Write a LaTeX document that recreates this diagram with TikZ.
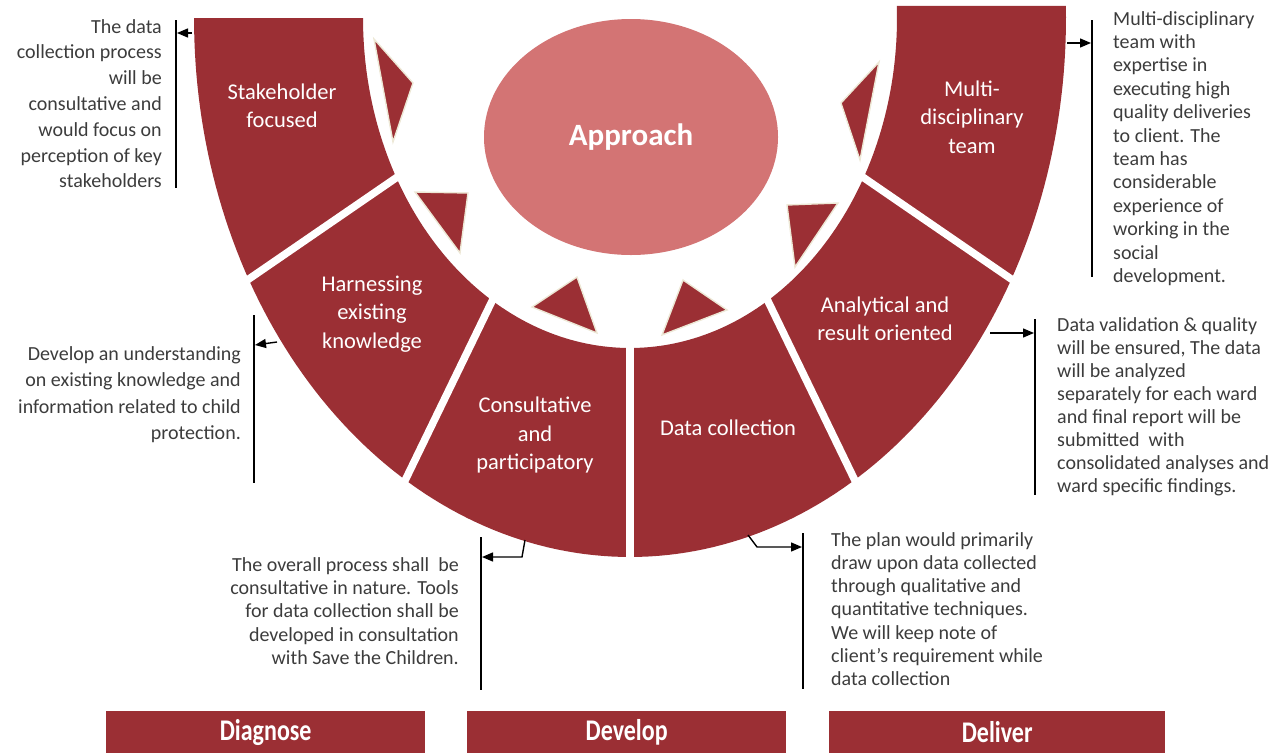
\documentclass[tikz,border=0pt]{standalone}
\usepackage{fontspec}
\setmainfont{Carlito}
\usetikzlibrary{arrows.meta,shapes.geometric}
\definecolor{ringred}{HTML}{9B2F34}
\definecolor{apppink}{HTML}{D37474}
\definecolor{txtgrey}{HTML}{3C3C3C}
\definecolor{cream}{HTML}{EDE8D6}
\begin{document}
\begin{tikzpicture}[x=1pt,y=-1pt,
  tri/.style={fill=ringred, draw=cream, line width=1.4pt, line join=miter},
  seglabel/.style={text=white, font=\fontsize{22.5}{28.5}\selectfont, align=center, inner sep=0},
  annot/.style={text=txtgrey, inner sep=0},
  bracket/.style={black, line width=1.6pt},
  pointer/.style={black, line width=1.4pt, -{Triangle[length=11pt,width=9pt]}},
  phasebox/.style={fill=ringred, minimum height=42, inner sep=0, text=white, font=\fontsize{30}{30}\selectfont\bfseries, anchor=north west},
  gapline/.style={white, line width=7.5pt}
]
\useasboundingbox (0,0) rectangle (1272,753);

% ring
\fill[ringred] plot[domain=-1.3:180,samples=150] ({630+436*cos(\x)},{18+539*sin(\x)})
  -- plot[domain=180:-2.1,samples=150] ({630+267*cos(\x)},{18+330*sin(\x)}) -- cycle;
\foreach \a in {29,59,90,121,151}
  \draw[gapline] ({630+258*cos(\a)},{18+318*sin(\a)}) -- ({630+446*cos(\a)},{18+551*sin(\a)});

% triangles
\path[tri] (374,39) -- (413,83) -- (393,142) -- cycle;
\path[tri] (415,192) -- (468,193) -- (460,253) -- cycle;
\path[tri] (577,277) -- (532,307) -- (597,333) -- cycle;
\path[tri] (683,280) -- (727,310) -- (662,335) -- cycle;
\path[tri] (787,205) -- (838,203) -- (795,267) -- cycle;
\path[tri] (879,62) -- (841,103) -- (860,160) -- cycle;

% centre ellipse
\node[ellipse, fill=apppink, minimum width=294, minimum height=236, inner sep=0,
  text=white, font=\fontsize{31}{31}\selectfont\bfseries] (app) at (631,137) {Approach};

% segment labels
\node[seglabel] (s1) at (282,106) {Stakeholder\\focused};
\node[seglabel] (s2) at (372,314) {Harnessing\\existing\\knowledge};
\node[seglabel] (s3) at (535,435) {Consultative\\and\\participatory};
\node[seglabel] (s4) at (728,428) {Data collection};
\node[seglabel] (s5) at (885,319) {Analytical and\\result oriented};
\node[seglabel] (s6) at (972,117) {Multi-\\disciplinary\\team};

% brackets
\coordinate (b1t) at (176,20);   \coordinate (b1b) at (176,188);
\coordinate (b2t) at (254,315);  \coordinate (b2b) at (254,483);
\coordinate (b3t) at (481,537);  \coordinate (b3b) at (481,690);
\coordinate (b4t) at (803,533);  \coordinate (b4b) at (803,689);
\coordinate (b5t) at (1035,319); \coordinate (b5b) at (1035,495);
\coordinate (b6t) at (1092,20);  \coordinate (b6b) at (1092,277);
\foreach \b in {1,...,6} \draw[bracket] (b\b t) -- (b\b b);

% pointers
\coordinate (p1s) at (192,33);  \coordinate (p1e) at (177,33);
\coordinate (p2s) at (277,342); \coordinate (p2e) at (255,345);
\coordinate (p3s) at (525,540); \coordinate (p3m) at (522,557); \coordinate (p3e) at (482,557);
\coordinate (p4s) at (748,535); \coordinate (p4m) at (757,547); \coordinate (p4e) at (802,547);
\coordinate (p5s) at (990,333); \coordinate (p5e) at (1034,333);
\coordinate (p6s) at (1067,43); \coordinate (p6e) at (1091,43);
\draw[pointer] (p1s) -- (p1e);
\draw[pointer] (p2s) -- (p2e);
\draw[pointer] (p3s) -- (p3m) -- (p3e);
\draw[pointer] (p4s) -- (p4m) -- (p4e);
\draw[pointer] (p5s) -- (p5e);
\draw[pointer] (p6s) -- (p6e);

% annotations
\node[annot, anchor=north east, align=right, font=\fontsize{20}{25.8}\selectfont] (a1) at (162,19)
 {The data\\collection process\\will be\\consultative and\\would focus on\\perception of key\\stakeholders};
\node[annot, anchor=north east, align=right, font=\fontsize{20}{26.5}\selectfont] (a2) at (241,346)
 {Develop an understanding\\on existing knowledge and\\information related to child\\protection.};
\node[annot, anchor=north east, align=right, font=\fontsize{20}{23.4}\selectfont] (a3) at (459,557)
 {The overall process shall\ \ be\\consultative in nature. Tools\\for data collection shall be\\developed in consultation\\with Save the Children.};
\node[annot, anchor=north west, align=left, font=\fontsize{20}{23.3}\selectfont] (a4) at (831,532)
 {The plan would primarily\\draw upon data collected\\through qualitative and\\quantitative techniques.\\We will keep note of\\client’s requirement while\\data collection};
\node[annot, anchor=north west, align=left, font=\fontsize{20}{23}\selectfont] (a5) at (1057,317)
 {Data validation \& quality\\will be ensured, The data\\will be analyzed\\separately for each ward\\and final report will be\\submitted\ \ with\\consolidated analyses and\\ward specific findings.};
\node[annot, anchor=north west, align=left, font=\fontsize{20}{23.4}\selectfont] (a6) at (1113,11)
 {Multi-disciplinary\\team with\\expertise in\\executing high\\quality deliveries\\to client. The\\team has\\considerable\\experience of\\working in the\\social\\development.};

% phase boxes
\node[phasebox, minimum width=319] (diag) at (106,711) {\raisebox{-3pt}{\scalebox{0.8}[1]{Diagnose}}};
\node[phasebox, minimum width=319] (dev) at (467,711) {\raisebox{-3pt}{\scalebox{0.8}[1]{Develop}}};
\node[phasebox, minimum width=336] (del) at (829,711) {\raisebox{-3pt}{\scalebox{0.8}[1]{Deliver}}};
\end{tikzpicture}
\end{document}
